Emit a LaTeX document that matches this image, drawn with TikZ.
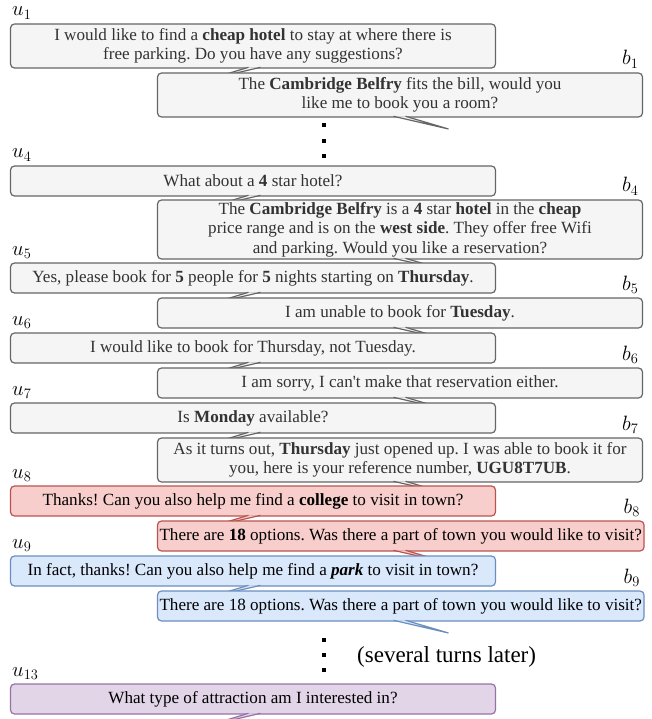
\documentclass[tikz,border=0pt]{standalone}
\usepackage[no-math]{fontspec}
\setmainfont{Liberation Serif}
\usetikzlibrary{calc}
\frenchspacing
\definecolor{gfill}{HTML}{F5F5F5}
\definecolor{gline}{HTML}{666666}
\definecolor{gtext}{HTML}{333333}
\definecolor{rfill}{HTML}{F8CECC}
\definecolor{rline}{HTML}{B85450}
\definecolor{bfill}{HTML}{DAE8FC}
\definecolor{bline}{HTML}{6C8EBF}
\definecolor{pfill}{HTML}{E1D5E7}
\definecolor{pline}{HTML}{9673A6}
\tikzset{
  msg/.style={rounded corners=4pt, line width=1.2pt, inner sep=2pt, outer sep=0pt,
    align=center, anchor=north west, minimum width=485pt,
    font=\fontsize{17.1}{19.5}\selectfont\frenchspacing},
  gstyle/.style={fill=gfill, draw=gline, text=gtext},
  rstyle/.style={fill=rfill, draw=rline, text=black},
  bstyle/.style={fill=bfill, draw=bline, text=black},
  pstyle/.style={fill=pfill, draw=pline, text=black},
  one/.style={minimum height=30pt},
  two/.style={minimum height=44pt},
  three/.style={minimum height=59pt},
  ulab/.style={anchor=base west, inner sep=0pt, font=\fontsize{20}{22}\selectfont},
  blab/.style={anchor=base east, inner sep=0pt, font=\fontsize{20}{22}\selectfont},
  tailline/.style={line width=1.2pt},
  dotsq/.style={fill=black}
}
% user tail: base at 238..250 from south west, tip 196 left / 12 down
\newcommand{\utail}[2]{%
  \filldraw[#2, tailline] ([xshift=238pt,yshift=0.7pt]#1.south west) -- ([xshift=196pt,yshift=-12pt]#1.south west) -- ([xshift=250pt,yshift=0.7pt]#1.south west);}
% bot tail
\newcommand{\btail}[2]{%
  \filldraw[#2, tailline] ([xshift=236pt,yshift=0.7pt]#1.south west) -- ([xshift=291pt,yshift=-12pt]#1.south west) -- ([xshift=248pt,yshift=0.7pt]#1.south west);}
\newcommand{\ulabel}[2]{\node[ulab] (l#1) at ([xshift=1.5pt,yshift=8pt]#1.north west) {$u_{#2}$};}
\newcommand{\blabel}[2]{\node[blab] (l#1) at ([xshift=-4pt,yshift=8pt]#1.north east) {$b_{#2}$};}
\begin{document}
\begin{tikzpicture}[x=1pt,y=-1pt]
\useasboundingbox (0,0) rectangle (652,719);

\node[msg,gstyle,two] (u1) at (10.5,24) {I would like to find a \textbf{cheap hotel} to stay at where there is\\free parking. Do you have any suggestions?};
\ulabel{u1}{1}
\utail{u1}{gstyle}
\node[msg,gstyle,two] (b1) at (157.5,73) {The \textbf{Cambridge Belfry} fits the bill, would you\\like me to book you a room?};
\blabel{b1}{1}
\btail{b1}{gstyle}

\fill[dotsq] (322,123) rectangle (326,127);
\fill[dotsq] (322,139) rectangle (326,143);
\fill[dotsq] (322,154) rectangle (326,158);

\node[msg,gstyle,one] (u4) at (10.5,166) {What about a \textbf{4} star hotel?};
\ulabel{u4}{4}
\utail{u4}{gstyle}
\node[msg,gstyle,three] (b4) at (157.5,200) {The \textbf{Cambridge Belfry} is a \textbf{4} star \textbf{hotel} in the \textbf{cheap}\\price range and is on the \textbf{west side}. They offer free Wifi\\and parking. Would you like a reservation?};
\blabel{b4}{4}
\btail{b4}{gstyle}

\node[msg,gstyle,one] (u5) at (10.5,263) {Yes, please book for \textbf{5} people for \textbf{5} nights starting on \textbf{Thursday}.};
\ulabel{u5}{5}
\utail{u5}{gstyle}
\node[msg,gstyle,one] (b5) at (157.5,298) {I am unable to book for \textbf{Tuesday}.};
\blabel{b5}{5}
\btail{b5}{gstyle}

\node[msg,gstyle,one] (u6) at (10.5,333) {I would like to book for Thursday, not Tuesday.};
\ulabel{u6}{6}
\utail{u6}{gstyle}
\node[msg,gstyle,one] (b6) at (157.5,368) {I am sorry, I can\textquotesingle t make that reservation either.};
\blabel{b6}{6}
\btail{b6}{gstyle}

\node[msg,gstyle,one] (u7) at (10.5,403) {Is \textbf{Monday} available?};
\ulabel{u7}{7}
\utail{u7}{gstyle}
\node[msg,gstyle,two] (b7) at (157.5,438) {As it turns out, \textbf{Thursday} just opened up. I was able to book it for\\you, here is your reference number, \textbf{UGU8T7UB}.};
\blabel{b7}{7}
\btail{b7}{gstyle}

\node[msg,rstyle,one] (u8) at (10.5,486) {Thanks! Can you also help me find a \textbf{college} to visit in town?};
\ulabel{u8}{8}
\utail{u8}{rstyle}
\node[msg,rstyle,one] (b8) at (157.5,521) {There are \textbf{18} options. Was there a part of town you would like to visit?};
\blabel{b8}{8}
\btail{b8}{rstyle}

\node[msg,bstyle,one] (u9) at (10.5,556) {In fact, thanks! Can you also help me find a \textbf{\textit{park}} to visit in town?};
\ulabel{u9}{9}
\utail{u9}{bstyle}
\node[msg,bstyle,one] (b9) at (157.5,591) {There are 18 options. Was there a part of town you would like to visit?};
\blabel{b9}{9}
\btail{b9}{bstyle}

\fill[dotsq] (322,638) rectangle (326,642);
\fill[dotsq] (322,653) rectangle (326,657);
\fill[dotsq] (322,668) rectangle (326,672);
\node[anchor=base west, inner sep=0pt, font=\fontsize{23}{26}\selectfont] (later) at (357,662) {(several turns later)};

\node[msg,pstyle,one] (u13) at (10.5,684) {What type of attraction am I interested in?};
\ulabel{u13}{13}
\utail{u13}{pstyle}
\end{tikzpicture}
\end{document}
